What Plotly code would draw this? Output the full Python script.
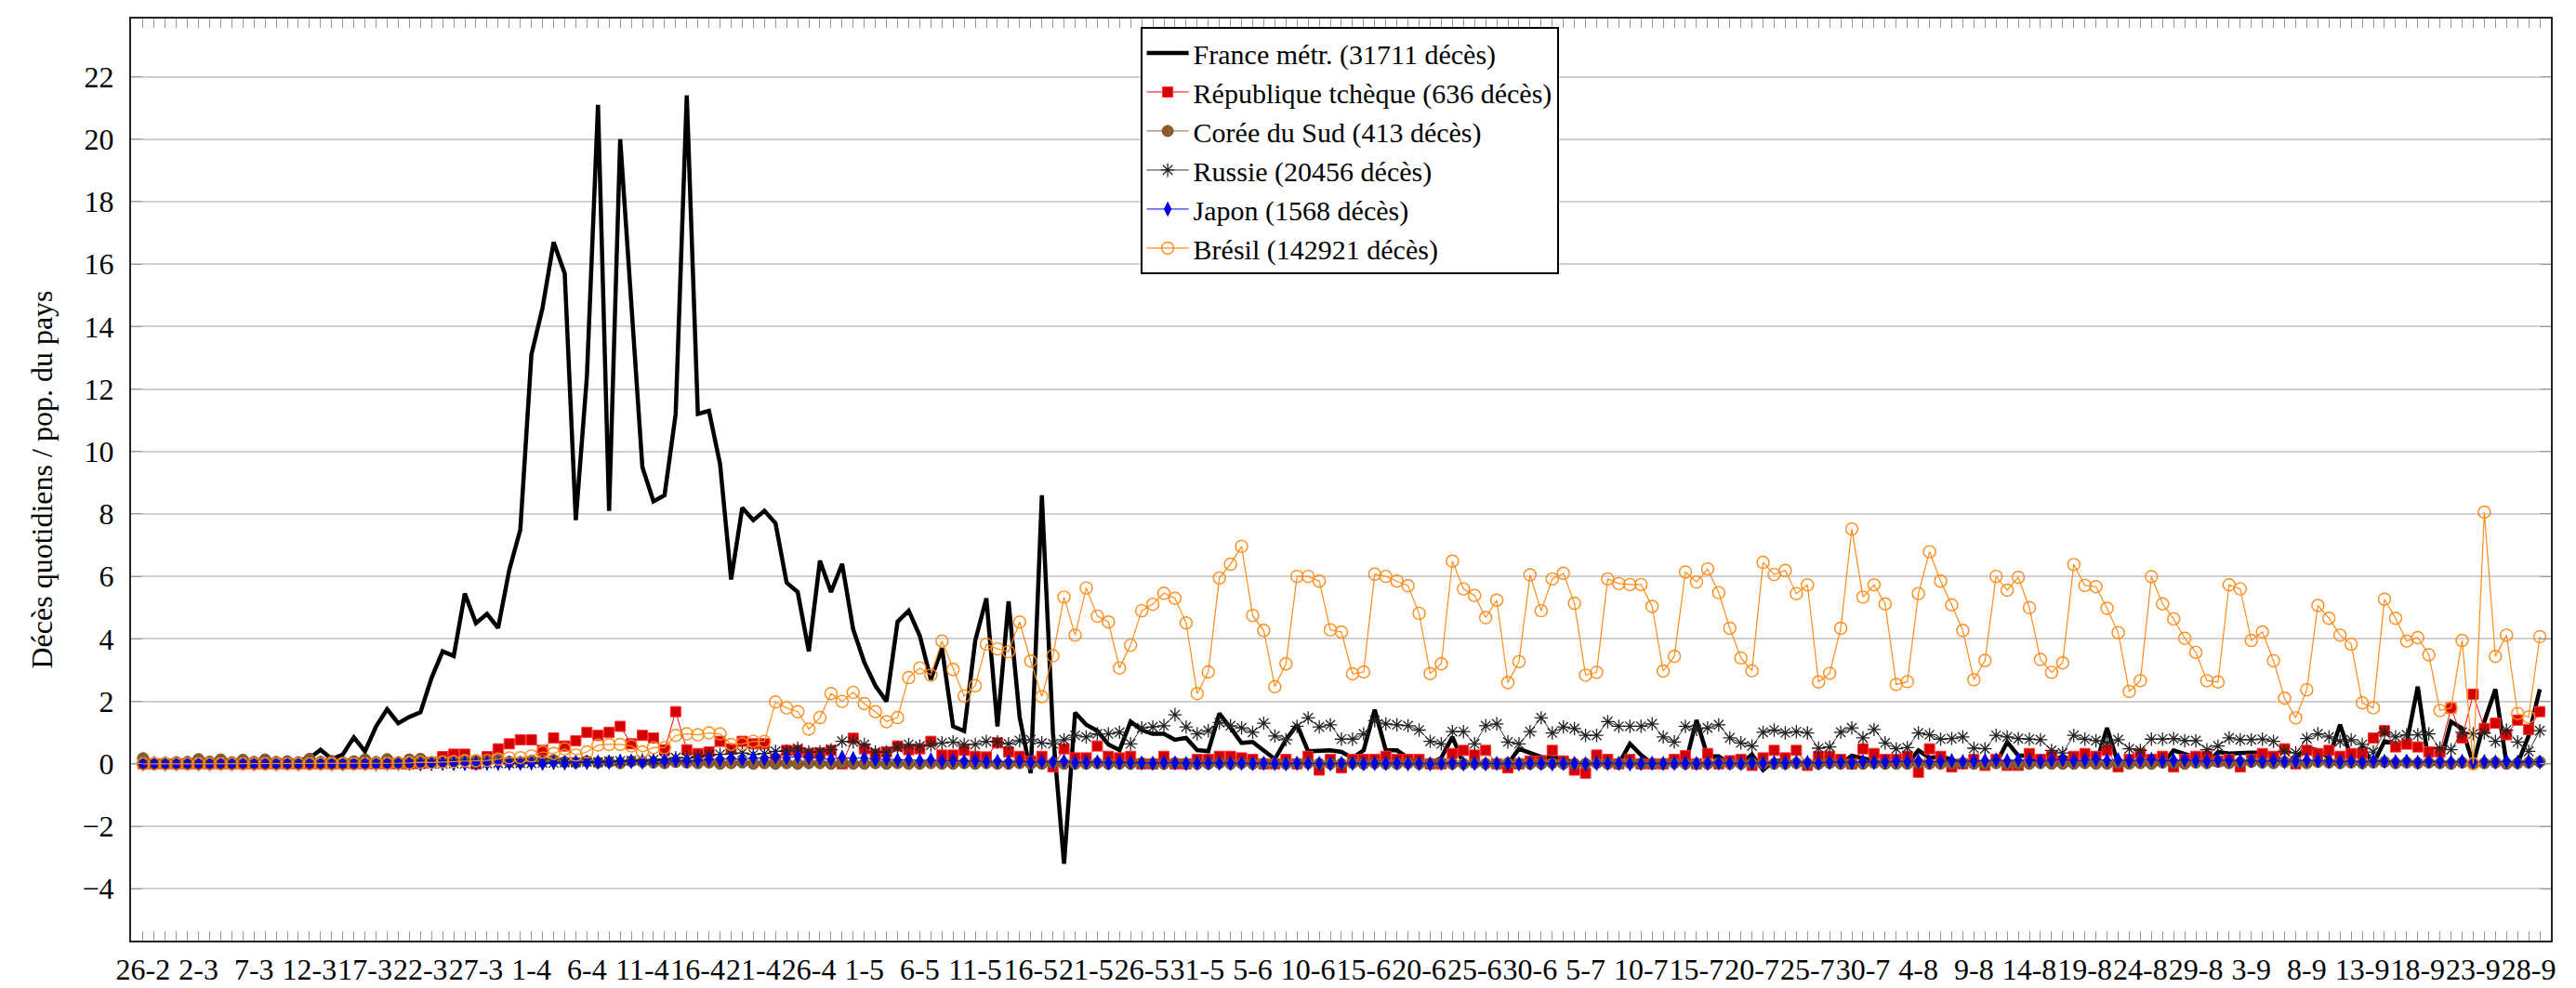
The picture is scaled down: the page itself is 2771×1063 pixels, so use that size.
import pandas as pd
import plotly.graph_objects as go

# ---- categories (days) ----
days = list(pd.date_range("2020-02-26", "2020-09-29", freq="D"))
day_labels = [f"{d.day}-{d.month}" for d in days]
tick_labels = ["26-2", "2-3", "7-3", "12-3", "17-3", "22-3", "27-3", "1-4", "6-4", "11-4",
               "16-4", "21-4", "26-4", "1-5", "6-5", "11-5", "16-5", "21-5", "26-5", "31-5",
               "5-6", "10-6", "15-6", "20-6", "25-6", "30-6", "5-7", "10-7", "15-7", "20-7",
               "25-7", "30-7", "4-8", "9-8", "14-8", "19-8", "24-8", "29-8", "3-9", "8-9",
               "13-9", "18-9", "23-9", "28-9"]

# ---- series values (daily deaths / population) ----
france = [0.02, 0, 0, 0, 0, 0.01, 0, 0, 0.01, 0.02,
          0.03, 0.02, 0.05, 0.08, 0.1, 0.18, 0.45, 0.15, 0.3, 0.85,
          0.4, 1.2, 1.75, 1.3, 1.5, 1.65, 2.75, 3.6, 3.45, 5.45,
          4.5, 4.8, 4.35, 6.2, 7.5, 13.1, 14.6, 16.7, 15.7, 7.8,
          12.4, 21.1, 8.1, 20.0, 14.5, 9.5, 8.4, 8.6, 11.2, 21.4,
          11.2, 11.3, 9.6, 5.9, 8.2, 7.8, 8.1, 7.7, 5.8, 5.5,
          3.6, 6.5, 5.5, 6.4, 4.3, 3.25, 2.5, 2.0, 4.55, 4.9,
          4.1, 2.7, 3.7, 1.2, 1.05, 3.95, 5.3, 1.2, 5.2, 1.5,
          -0.3, 8.6, 1.0, -3.2, 1.64, 1.25, 1.06, 0.62, 0.44, 1.35,
          1.08, 0.96, 0.96, 0.77, 0.83, 0.44, 0.4, 1.61, 1.15, 0.67,
          0.7, 0.43, 0.15, 0.77, 1.25, 0.4, 0.43, 0.43, 0.38, 0.19,
          0.43, 1.73, 0.43, 0.43, 0.19, 0.0, 0.0, 0.19, 0.86, 0.0,
          0.0, 0.0, 0.0, 0.0, 0.48, 0.35, 0.22, 0.19, 0.19, 0.0,
          0.0, 0.0, 0.0, 0.0, 0.64, 0.28, 0.0, 0.0, 0.24, 0.0,
          1.4, 0.24, 0.24, 0.0, 0.0, 0.3, -0.2, 0.1, 0.1, 0.0,
          0.0, 0.0, 0.0, 0.0, 0.26, 0.19, 0.1, 0.0, 0.0, 0.0,
          0.43, 0.19, 0.24, 0.14, 0.0, 0.0, 0.0, 0.0, 0.7, 0.26,
          0.26, 0.0, 0.0, 0.0, 0.0, 0.0, 0.0, 1.15, 0.0, 0.0,
          0.0, 0.0, 0.0, 0.43, 0.33, 0.2, 0.0, 0.38, 0.33, 0.36,
          0.36, 0.35, 0.3, 0.0, 0.2, 0.52, 0.43, 0.2, 1.25, 0.2,
          0.52, 0.0, 0.72, 0.65, 0.66, 2.47, 0.0, 0.0, 1.35, 1.13,
          0.0, 1.35, 2.39, 0.0, 0.0, 0.9, 2.39]

czech = [0, 0, 0, 0, 0, 0, 0, 0, 0, 0,
         0, 0, 0, 0, 0, 0, 0, 0, 0, 0,
         0, 0, 0, 0, 0, 0.01, 0.05, 0.23, 0.31, 0.31,
         -0.01, 0.23, 0.48, 0.64, 0.77, 0.77, 0.43, 0.83, 0.57, 0.74,
         1.01, 0.91, 1.01, 1.2, 0.64, 0.91, 0.83, 0.45, 1.67, 0.45,
         0.33, 0.38, 0.72, 0.48, 0.72, 0.64, 0.64, 0.13, 0.43, 0.43,
         0.33, 0.35, 0.43, 0.0, 0.82, 0.48, 0.31, 0.38, 0.57, 0.45,
         0.48, 0.72, 0.28, 0.28, 0.43, 0.24, 0.22, 0.67, 0.38, 0.24,
         0.09, 0.24, -0.1, 0.48, 0.19, 0.19, 0.57, 0.24, 0.19, 0.24,
         0, 0, 0.24, 0, 0, 0.14, 0.14, 0.24, 0.24, 0.19,
         0.14, 0, 0, 0.14, 0, 0.24, -0.2, 0.14, -0.13, 0.14,
         0.14, 0.14, 0.24, 0.14, 0.14, 0.14, 0, 0, 0.33, 0.43,
         0.28, 0.43, 0, -0.13, 0, 0.09, 0.09, 0.43, 0.09, -0.2,
         -0.3, 0.28, 0.14, 0, 0.14, 0, 0, 0, 0.14, 0.26,
         0, 0.33, 0, 0.1, 0.14, -0.05, 0.19, 0.43, 0.19, 0.43,
         -0.05, 0.24, 0.24, 0.14, 0, 0.48, 0.33, 0.14, 0.14, 0.24,
         -0.27, 0.48, 0.24, -0.1, 0, 0.14, -0.05, 0.14, -0.05, -0.05,
         0.33, 0.14, 0.24, 0.09, 0.24, 0.33, 0.24, 0.43, -0.1, 0.14,
         0.33, 0.14, 0.24, -0.1, 0.14, 0.24, 0.24, 0.09, 0.14, -0.1,
         0.14, 0.33, 0.24, 0.48, 0, 0.43, 0.33, 0.43, 0.24, 0.33,
         0.33, 0.83, 1.06, 0.54, 0.63, 0.54, 0.38, 0.38, 1.79, 0.83,
         2.23, 1.13, 1.3, 0.93, 1.4, 1.1, 1.67]

korea = [0.18, 0.02, 0.03, 0.05, 0.06, 0.15, 0.07, 0.14, 0.05, 0.13,
         0.06, 0.14, 0.06, 0.08, 0.05, 0.16, 0.06, 0.09, 0.05, 0.08,
         0.14, 0.06, 0.15, 0.05, 0.14, 0.16, 0.04, 0.08, 0.06, 0.14,
         0.1, 0.08, 0.12, 0.06, 0.05, 0.1, 0.08, 0.12, 0.06, 0.04,
         0.08, 0.04, 0.06, 0.02, 0.08, 0.06, 0.04, 0.02, 0.06, 0.04,
         0.02, 0.04, 0.0, 0.02, 0.04, 0.0, 0.02, 0.0, 0.02, 0.0,
         0.02, 0.02, 0.0, 0.02, 0.0, 0.0, 0.02, 0.0, 0.02, 0.0,
         0.0, 0.02, 0.0, 0.0, 0.02, 0.0, 0.02, 0.0, 0.0, 0.02,
         0.0, 0.0, 0.02, 0.0, 0.0, 0.0, 0.02, 0.0, 0.0, 0.0,
         0.02, 0.0, 0.0, 0.02, 0.0, 0.0, 0.0, 0.02, 0.0, 0.02,
         0.0, 0.0, 0.02, 0.0, 0.0, 0.02, 0.0, 0.0, 0.0, 0.02,
         0.0, 0.02, 0.0, 0.0, 0.02, 0.0, 0.0, 0.02, 0.0, 0.0,
         0.02, 0.0, 0.0, 0.02, 0.0, 0.0, 0.0, 0.02, 0.0, 0.0,
         0.0, 0.02, 0.0, 0.0, 0.02, 0.0, 0.0, 0.0, 0.02, 0.0,
         0.0, 0.0, 0.02, 0.0, 0.0, 0.02, 0.0, 0.0, 0.0, 0.02,
         0.0, 0.0, 0.02, 0.0, 0.0, 0.0, 0.02, 0.0, 0.0, 0.0,
         0.02, 0.0, 0.0, 0.0, 0.02, 0.0, 0.0, 0.02, 0.0, 0.0,
         0.0, 0.02, 0.0, 0.0, 0.0, 0.02, 0.0, 0.0, 0.02, 0.0,
         0.02, 0.0, 0.04, 0.02, 0.0, 0.04, 0.02, 0.06, 0.02, 0.04,
         0.06, 0.04, 0.02, 0.06, 0.04, 0.02, 0.06, 0.04, 0.02, 0.04,
         0.02, 0.04, 0.06, 0.02, 0.04, 0.02, 0.04, 0.02, 0.0, 0.04,
         0.02, 0.02, 0.04, 0.0, 0.02, 0.04, 0.06]

russia = [0, 0, 0, 0, 0, 0, 0, 0, 0, 0,
          0, 0, 0, 0, 0, 0, 0, 0, 0, 0,
          0, 0, 0, 0, 0, 0, 0, 0, 0.01, 0.0,
          0.01, 0.01, 0.02, 0.01, 0.02, 0.02, 0.03, 0.03, 0.04, 0.05,
          0.06, 0.05, 0.08, 0.09, 0.1, 0.12, 0.13, 0.15, 0.2, 0.19,
          0.23, 0.28, 0.3, 0.32, 0.35, 0.3, 0.33, 0.4, 0.41, 0.5,
          0.38, 0.38, 0.45, 0.72, 0.7, 0.62, 0.38, 0.38, 0.52, 0.62,
          0.57, 0.6, 0.67, 0.7, 0.62, 0.62, 0.72, 0.7, 0.64, 0.74,
          0.77, 0.67, 0.64, 0.77, 0.91, 0.86, 0.96, 0.96, 1.01, 0.64,
          1.15, 1.18, 1.22, 1.57, 1.18, 0.96, 1.06, 1.32, 1.22, 1.15,
          1.01, 1.3, 0.89, 0.77, 1.2, 1.47, 1.18, 1.25, 0.79, 0.79,
          0.96, 1.38, 1.28, 1.25, 1.22, 1.08, 0.72, 0.64, 1.03, 1.03,
          0.64, 1.22, 1.28, 0.7, 0.64, 1.03, 1.47, 0.99, 1.18, 1.13,
          0.91, 0.91, 1.35, 1.2, 1.2, 1.2, 1.28, 0.86, 0.7, 1.2,
          1.1, 1.15, 1.25, 0.83, 0.67, 0.57, 1.01, 1.08, 0.99, 1.03,
          0.99, 0.5, 0.54, 1.01, 1.15, 0.83, 1.1, 0.67, 0.48, 0.52,
          0.99, 0.93, 0.79, 0.81, 0.86, 0.5, 0.48, 0.91, 0.86, 0.81,
          0.79, 0.77, 0.43, 0.35, 0.91, 0.79, 0.74, 0.67, 0.77, 0.48,
          0.43, 0.79, 0.79, 0.81, 0.74, 0.74, 0.45, 0.57, 0.83, 0.77,
          0.77, 0.79, 0.72, 0.4, 0.35, 0.81, 0.96, 0.86, 0.72, 0.77,
          0.62, 0.38, 1.01, 0.86, 0.93, 0.93, 0.96, 0.5, 0.45, 1.01,
          0.96, 0.99, 0.72, 1.08, 0.7, 0.4, 1.06]

japan = [0.0, 0.01, 0.0, 0.0, 0.01, 0.0, 0.0, 0.01, 0.0, 0.01,
         0.0, 0.01, 0.0, 0.01, 0.0, 0.01, 0.01, 0.0, 0.0, 0.01,
         0.01, 0.0, 0.01, 0.01, 0.02, 0.0, 0.01, 0.02, 0.01, 0.01,
         0.02, 0.02, 0.01, 0.03, 0.02, 0.03, 0.02, 0.04, 0.03, 0.05,
         0.04, 0.06, 0.05, 0.08, 0.07, 0.06, 0.09, 0.1, 0.12, 0.09,
         0.11, 0.15, 0.13, 0.18, 0.14, 0.2, 0.16, 0.22, 0.19, 0.24,
         0.2, 0.18, 0.15, 0.21, 0.17, 0.19, 0.13, 0.16, 0.12, 0.14,
         0.1, 0.13, 0.09, 0.11, 0.08, 0.1, 0.07, 0.08, 0.06, 0.09,
         0.05, 0.07, 0.06, 0.08, 0.04, 0.05, 0.06, 0.03, 0.05, 0.04,
         0.03, 0.02, 0.04, 0.03, 0.01, 0.02, 0.03, 0.02, 0.01, 0.02,
         0.01, 0.02, 0.01, 0.0, 0.02, 0.01, 0.01, 0.0, 0.01, 0.02,
         0.0, 0.01, 0.01, 0.02, 0.0, 0.01, 0.0, 0.01, 0.02, 0.0,
         0.01, 0.0, 0.01, 0.01, 0.0, 0.02, 0.01, 0.0, 0.01, 0.01,
         0.0, 0.01, 0.02, 0.01, 0.0, 0.01, 0.02, 0.01, 0.01, 0.02,
         0.01, 0.02, 0.03, 0.02, 0.01, 0.03, 0.02, 0.04, 0.03, 0.05,
         0.04, 0.03, 0.05, 0.06, 0.04, 0.07, 0.05, 0.06, 0.08, 0.07,
         0.09, 0.06, 0.08, 0.1, 0.07, 0.09, 0.11, 0.12, 0.1, 0.13,
         0.11, 0.09, 0.12, 0.14, 0.1, 0.12, 0.15, 0.11, 0.13, 0.1,
         0.12, 0.14, 0.09, 0.11, 0.13, 0.1, 0.08, 0.12, 0.11, 0.09,
         0.1, 0.08, 0.11, 0.07, 0.09, 0.12, 0.1, 0.08, 0.07, 0.09,
         0.06, 0.1, 0.08, 0.07, 0.09, 0.05, 0.08, 0.07, 0.06, 0.08,
         0.05, 0.07, 0.06, 0.08, 0.05, 0.07, 0.06]

brazil = [0, 0, 0, 0, 0, 0, 0, 0, 0, 0,
          0, 0, 0, 0, 0, 0, 0, 0, 0, 0,
          0.005, 0.01, 0.01, 0.02, 0.03, 0.05, 0.04, 0.06, 0.07, 0.1,
          0.1, 0.11, 0.15, 0.19, 0.2, 0.25, 0.38, 0.33, 0.48, 0.28,
          0.38, 0.6, 0.62, 0.62, 0.57, 0.38, 0.52, 0.52, 0.91, 0.96,
          0.93, 0.99, 0.96, 0.62, 0.64, 0.72, 0.72, 1.98, 1.79, 1.67,
          1.11, 1.48, 2.25, 2.0, 2.29, 1.93, 1.67, 1.35, 1.48, 2.76,
          3.07, 2.84, 3.93, 3.02, 2.17, 2.5, 3.83, 3.68, 3.59, 4.54,
          3.29, 2.15, 3.46, 5.34, 4.12, 5.63, 4.73, 4.54, 3.07, 3.8,
          4.9, 5.11, 5.46, 5.3, 4.51, 2.25, 2.94, 5.95, 6.39, 6.96,
          4.75, 4.27, 2.47, 3.2, 6.0, 6.0, 5.85, 4.29, 4.22, 2.88,
          2.94, 6.07, 6.0, 5.85, 5.7, 4.82, 2.89, 3.2, 6.49, 5.6,
          5.39, 4.68, 5.24, 2.6, 3.27, 6.05, 4.9, 5.92, 6.1, 5.14,
          2.84, 2.93, 5.92, 5.77, 5.74, 5.74, 5.04, 2.97, 3.44, 6.14,
          5.82, 6.24, 5.48, 4.34, 3.39, 2.98, 6.45, 6.06, 6.19, 5.45,
          5.73, 2.62, 2.9, 4.34, 7.52, 5.34, 5.73, 5.12, 2.54, 2.63,
          5.45, 6.79, 5.85, 5.09, 4.27, 2.69, 3.31, 6.0, 5.56, 5.97,
          5.0, 3.34, 2.93, 3.23, 6.38, 5.71, 5.67, 4.98, 4.2, 2.32,
          2.66, 5.99, 5.12, 4.64, 4.02, 3.57, 2.66, 2.62, 5.73, 5.6,
          3.95, 4.22, 3.3, 2.1, 1.47, 2.37, 5.07, 4.66, 4.12, 3.83,
          1.95, 1.79, 5.27, 4.66, 3.93, 4.04, 3.49, 1.71, 1.79, 3.95,
          0.0, 8.06, 3.44, 4.12, 1.61, 1.5, 4.07]

names = ["France métr. (31711 décès)", "République tchèque (636 décès)",
         "Corée du Sud (413 décès)", "Russie (20456 décès)",
         "Japon (1568 décès)", "Brésil (142921 décès)"]

x = list(range(len(day_labels)))
tickvals = x
ticktext = [lab if lab in tick_labels and i % 5 == 0 else "" for i, lab in enumerate(day_labels)]

FONT = "'Liberation Serif', 'Times New Roman', 'DejaVu Serif', serif"
fig = go.Figure()

fig.add_trace(go.Scatter(x=x, y=france, name=names[0], mode="lines",
                         line=dict(color="black", width=4.5)))
fig.add_trace(go.Scatter(x=x, y=czech, name=names[1], mode="lines+markers",
                         line=dict(color="#ff0000", width=1),
                         marker=dict(symbol="square", size=11, color="#d40000",
                                     line=dict(color="#ff3030", width=1))))
fig.add_trace(go.Scatter(x=x, y=korea, name=names[2], mode="lines+markers",
                         line=dict(color="#a88462", width=1.2),
                         marker=dict(symbol="circle", size=12, color="#8c5c30",
                                     line=dict(color="#7a4e26", width=1))))
fig.add_trace(go.Scatter(x=x, y=russia, name=names[3], mode="lines+markers",
                         line=dict(color="#333333", width=1),
                         marker=dict(symbol="asterisk-open", size=12, color="#222222",
                                     line=dict(color="#222222", width=1.3))))
fig.add_trace(go.Scatter(x=x, y=japan, name=names[4], mode="lines+markers",
                         line=dict(color="#0000ff", width=1),
                         marker=dict(symbol="diamond-tall", size=12, color="#0000e0",
                                     line=dict(width=0))))
fig.add_trace(go.Scatter(x=x, y=brazil, name=names[5], mode="lines+markers",
                         line=dict(color="#ff8c1a", width=1.2),
                         marker=dict(symbol="circle-open", size=13, color="#ff8c1a",
                                     line=dict(width=1.4))))

fig.update_layout(
    width=2771, height=1063,
    margin=dict(l=133, r=35, t=10, b=40),
    paper_bgcolor="white", plot_bgcolor="white",
    font=dict(family=FONT, size=32, color="black"),
    showlegend=True,
    legend=dict(x=0.5035, y=0.991, xanchor="center", yanchor="top",
                bgcolor="white", bordercolor="black", borderwidth=2,
                font=dict(family=FONT, size=30, color="black"),
                itemwidth=45, tracegroupgap=0),
)
fig.update_xaxes(
    range=[-1.08, 217.0], tickmode="array", tickvals=tickvals, ticktext=ticktext,
    ticks="inside", ticklen=10, tickwidth=1.2, tickcolor="#9a9a9a",
    showline=True, linecolor="#222222", linewidth=2, mirror="ticks",
    showgrid=False, zeroline=False, tickangle=0,
    tickfont=dict(family=FONT, size=32, color="black"), ticklabelstandoff=2,
)
fig.update_yaxes(
    range=[-5.66, 23.86], tickmode="array", tickvals=list(range(-4, 23, 2)),
    ticks="inside", ticklen=12, tickwidth=1.2, tickcolor="#9a9a9a",
    showline=True, linecolor="#222222", linewidth=2, mirror="ticks",
    showgrid=True, gridcolor="#d0d0d0", gridwidth=2, zeroline=False,
    tickfont=dict(family=FONT, size=32, color="black"), ticklabelstandoff=10,
    title=dict(text="Décès quotidiens / pop. du pays",
               font=dict(family=FONT, size=32, color="black"), standoff=22),
)

fig.write_html("out.html")
